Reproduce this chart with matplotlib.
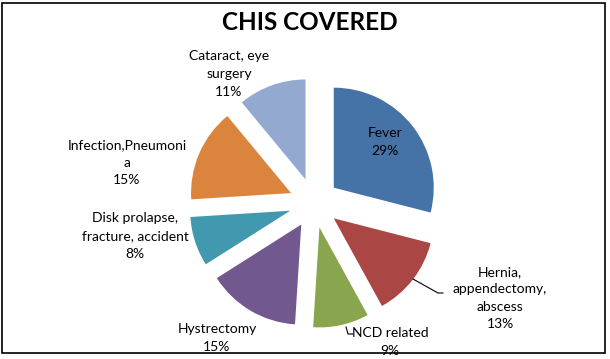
import numpy as np
import matplotlib
matplotlib.use('Agg')
import matplotlib.pyplot as plt
from matplotlib.patches import Rectangle

plt.rcParams['font.family'] = ['Lato', 'DejaVu Sans']

# data
categories = ['Fever', 'Hernia,\nappendectomy,\nabscess', 'NCD related', 'Hystrectomy',
              'Disk prolapse,\nfracture, accident', 'Infection,Pneumoni\na', 'Cataract, eye\nsurgery']
percents = [29, 13, 9, 15, 8, 15, 11]
colors = ['#4572A7', '#AA4643', '#89A54E', '#71588F', '#4198AF', '#DB843D', '#93A9CF']

W, H = 610, 359
CX, CY, R = 314, 203, 100   # pie centre and radius in pixels

def px(x, y):
    # pixel (from top-left) -> data units
    return (x - CX) / R, (CY - y) / R

fig = plt.figure(figsize=(W / 100, H / 100), dpi=100)
ax = fig.add_axes([0, 0, 1, 1])

ax.pie(percents, colors=colors, startangle=90, counterclock=False,
       explode=[0.25] * len(percents), radius=1,
       wedgeprops=dict(linewidth=0))
# pie() resets the limits, so set them afterwards
ax.set_xlim(-CX / R, (W - CX) / R)
ax.set_ylim(-(H - CY) / R, CY / R)
ax.axis('off')

# label anchor points (pixels)
label_pos = [(385, 142), (500, 298), (390, 342), (217, 338), (135, 236), (127, 163), (229, 74)]
for name, p, pos in zip(categories, percents, label_pos):
    x, y = px(*pos)
    ax.text(x, y, name + '\n' + str(p) + '%', ha='center', va='center',
            fontsize=10, linespacing=1.55, color='black')

# leader lines
for pts in [[(413, 279), (438, 293), (443, 293)], [(346, 327), (348, 334), (353, 334)]]:
    xy = np.array([px(*q) for q in pts])
    ax.plot(xy[:, 0], xy[:, 1], color='black', lw=0.8)

fig.text(310 / W, 1 - 23 / H, 'CHIS COVERED', ha='center', va='center',
         fontsize=17.5, fontweight='bold')

fig.patches.append(Rectangle((2 / W, 6 / H), 603 / W, 350 / H, transform=fig.transFigure,
                             fill=False, edgecolor='black', linewidth=1.2))

fig.savefig('out.png', dpi=100)
